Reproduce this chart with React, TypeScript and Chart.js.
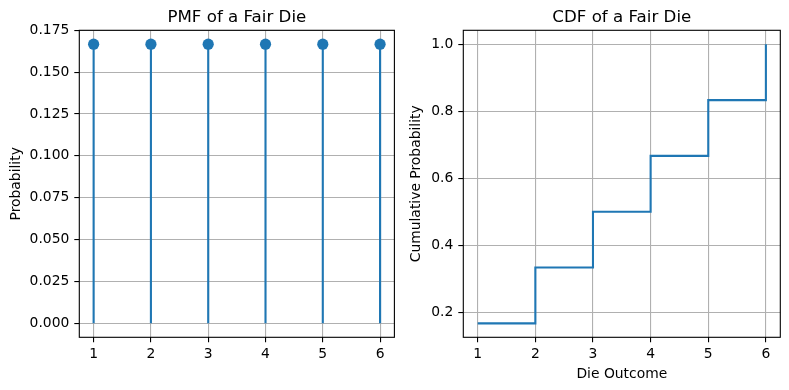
import React, { useEffect, useRef } from "react";
import { Chart, registerables } from "chart.js";
Chart.register(...registerables);

const outcomes = [1, 2, 3, 4, 5, 6];
const pmf = [0.1667, 0.1667, 0.1667, 0.1667, 0.1667, 0.1667];
const cdf = [0.1667, 0.3333, 0.5, 0.6667, 0.8333, 1.0];
const xTicks = [1, 2, 3, 4, 5, 6];
const pmfYTicks = [0, 0.025, 0.05, 0.075, 0.1, 0.125, 0.15, 0.175];
const cdfYTicks = [0.2, 0.4, 0.6, 0.8, 1.0];

const BLUE = "#1f77b4";
const GRID = "#b0b0b0";
const FONT = "DejaVu Sans";
const H = 390;
const AREA_TOP = 30.3;
const AREA_BOTTOM = 337.3;

const frame = {
  id: "frame",
  afterDatasetsDraw(chart: any) {
    const { ctx, chartArea: a } = chart;
    ctx.save();
    ctx.strokeStyle = "#000";
    ctx.lineWidth = 1.1;
    ctx.strokeRect(a.left, a.top, a.right - a.left, a.bottom - a.top);
    ctx.restore();
  },
};

const axesTitle = {
  id: "axesTitle",
  afterDraw(chart: any, _args: any, opts: any) {
    const { ctx, chartArea: a } = chart;
    ctx.save();
    ctx.fillStyle = "#000";
    ctx.font = `16.67px "${FONT}"`;
    ctx.textAlign = "center";
    ctx.textBaseline = "alphabetic";
    ctx.fillText(opts.text, (a.left + a.right) / 2, 22.4);
    ctx.restore();
  },
};

function makeOptions(opts: {
  title: string;
  yTitle: string;
  xTitle?: string;
  yTicks: number[];
  yMin: number;
  yMax: number;
  yDecimals: number;
  areaLeft: number;
  width: number;
  areaRight: number;
}) {
  const padLeft = 8;
  return {
    responsive: false,
    animation: false,
    devicePixelRatio: 1,
    layout: { padding: { left: padLeft, right: opts.width - opts.areaRight, top: AREA_TOP, bottom: 0 } },
    plugins: {
      legend: { display: false },
      tooltip: { enabled: false },
      title: { display: false },
      axesTitle: { text: opts.title },
    },
    scales: {
      x: {
        type: "linear",
        min: 0.75,
        max: 6.25,
        afterBuildTicks: (s: any) => {
          s.ticks = xTicks.map((v) => ({ value: v }));
        },
        afterFit: (s: any) => {
          s.height = H - AREA_BOTTOM;
        },
        ticks: {
          color: "#000",
          font: { family: FONT, size: 13.89 },
          padding: 4,
          maxRotation: 0,
          callback: (v: any) => String(v),
        },
        grid: { color: GRID, lineWidth: 1.1, tickColor: "#000", tickLength: 5, tickWidth: 1.1 },
        border: { display: false },
        title: {
          display: !!opts.xTitle,
          text: opts.xTitle || "",
          color: "#000",
          font: { family: FONT, size: 13.89, lineHeight: 1.2 },
          padding: { top: 0, bottom: 7 },
        },
      },
      y: {
        type: "linear",
        min: opts.yMin,
        max: opts.yMax,
        afterBuildTicks: (s: any) => {
          s.ticks = opts.yTicks.map((v) => ({ value: v }));
        },
        afterFit: (s: any) => {
          s.width = opts.areaLeft - padLeft;
        },
        ticks: {
          color: "#000",
          font: { family: FONT, size: 13.89 },
          padding: 5,
          callback: (v: any) => Number(v).toFixed(opts.yDecimals),
        },
        grid: { color: GRID, lineWidth: 1.1, tickColor: "#000", tickLength: 5, tickWidth: 1.1 },
        border: { display: false },
        title: {
          display: true,
          text: opts.yTitle,
          color: "#000",
          font: { family: FONT, size: 13.89, lineHeight: 1.2 },
          padding: { top: 0, bottom: 0 },
        },
      },
    },
  };
}

function PmfChart() {
  const ref = useRef<HTMLCanvasElement>(null);
  useEffect(() => {
    const stems: any[] = [];
    outcomes.forEach((x, i) => {
      stems.push({ x, y: 0 }, { x, y: pmf[i] }, { x, y: null });
    });
    const chart = new Chart(ref.current as HTMLCanvasElement, {
      type: "scatter",
      data: {
        datasets: [
          {
            data: outcomes.map((x, i) => ({ x, y: pmf[i] })),
            pointRadius: 5.6,
            pointBackgroundColor: BLUE,
            pointBorderWidth: 0,
            showLine: false,
          },
          {
            data: stems,
            showLine: true,
            spanGaps: false,
            borderColor: BLUE,
            borderWidth: 2.1,
            pointRadius: 0,
          },
        ],
      } as any,
      options: makeOptions({
        title: "PMF of a Fair Die",
        yTitle: "Probability",
        yTicks: pmfYTicks,
        yMin: -0.00833,
        yMax: 0.175,
        yDecimals: 3,
        areaLeft: 79.3,
        width: 400,
        areaRight: 396,
      }) as any,
      plugins: [frame, axesTitle],
    });
    return () => chart.destroy();
  }, []);
  return (
    <canvas
      ref={ref}
      width={400}
      height={H}
      style={{ position: "absolute", left: 0, top: 0, width: 400, height: H }}
    />
  );
}

function CdfChart() {
  const ref = useRef<HTMLCanvasElement>(null);
  useEffect(() => {
    const chart = new Chart(ref.current as HTMLCanvasElement, {
      type: "scatter",
      data: {
        datasets: [
          {
            data: outcomes.map((x, i) => ({ x, y: cdf[i] })),
            showLine: true,
            stepped: "before",
            borderColor: BLUE,
            borderWidth: 2.1,
            pointRadius: 0,
          },
        ],
      } as any,
      options: makeOptions({
        title: "CDF of a Fair Die",
        yTitle: "Cumulative Probability",
        xTitle: "Die Outcome",
        yTicks: cdfYTicks,
        yMin: 0.125,
        yMax: 1.0417,
        yDecimals: 1,
        areaLeft: 63.3,
        width: 389,
        areaRight: 380.3,
      }) as any,
      plugins: [frame, axesTitle],
    });
    return () => chart.destroy();
  }, []);
  return (
    <canvas
      ref={ref}
      width={389}
      height={H}
      style={{ position: "absolute", left: 400, top: 0, width: 389, height: H }}
    />
  );
}

export default function App() {
  return (
    <div
      style={{
        position: "fixed",
        left: 0,
        top: 0,
        width: 789,
        height: H,
        background: "#fff",
        overflow: "hidden",
      }}
    >
      <PmfChart />
      <CdfChart />
    </div>
  );
}
